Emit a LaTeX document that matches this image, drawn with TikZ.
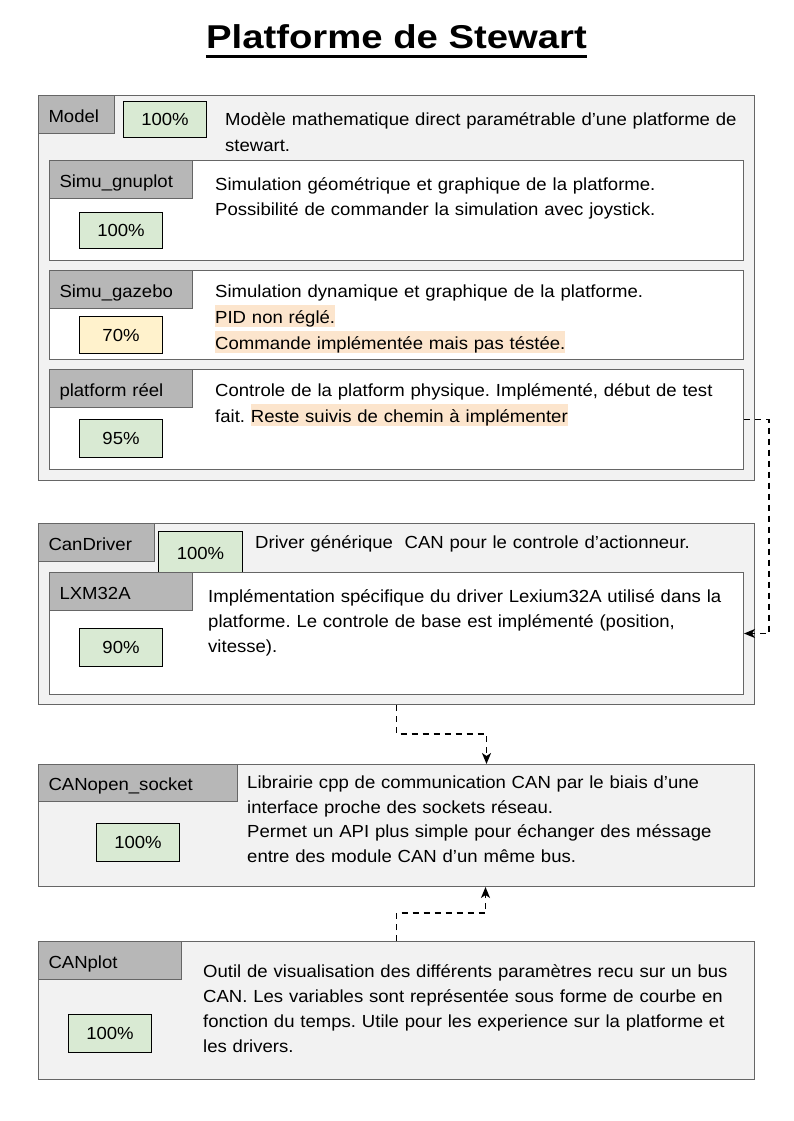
\documentclass[tikz,border=0pt]{standalone}
\usepackage{fontspec}
\setmainfont{Liberation Sans}[FakeStretch=1.06]
\newfontfamily\titlefont{Liberation Sans}[FakeStretch=1.16]
\usepackage{tikz}
\usetikzlibrary{arrows.meta,calc}
\usepackage{xcolor}
\frenchspacing
\definecolor{panelgray}{HTML}{F2F2F2}
\definecolor{edgegray}{HTML}{666666}
\definecolor{taggray}{HTML}{B7B7B7}
\definecolor{okgreen}{HTML}{D9EAD3}
\definecolor{wipyellow}{HTML}{FFF2CC}
\definecolor{hlpeach}{HTML}{FCE5CD}
\tikzstyle{modbox}=[draw=edgegray, fill=panelgray, line width=1pt, anchor=north west, inner sep=0pt]
\tikzstyle{subbox}=[modbox, fill=white]
\tikzstyle{tagbox}=[draw=edgegray, fill=taggray, line width=1pt, anchor=north west, inner xsep=10pt, inner ysep=0pt, align=left, text height=15pt, text depth=0pt, font=\fontsize{17.5}{21}\selectfont]
\tikzstyle{pctbox}=[draw=black, fill=okgreen, line width=1pt, anchor=north west, inner sep=0pt, minimum width=83pt, font=\fontsize{17.5}{21}\selectfont]
\tikzstyle{descr}=[anchor=base west, inner sep=0pt, text width=570pt, align=left, font=\fontsize{17.5}{25}\selectfont]
\tikzstyle{dep}=[dash pattern=on 6pt off 5pt, line width=1.6pt, -{Stealth[length=11pt,width=9pt,inset=3pt]}]
\newcommand{\hl}[1]{{\setlength{\fboxsep}{0pt}\colorbox{hlpeach}{\rule[-4pt]{0pt}{22pt}#1}}}

\begin{document}
\begin{tikzpicture}[x=1pt, y=-1pt]
 \useasboundingbox (0,0) rectangle (793,1121);
 \node[inner sep=0pt, anchor=base, font=\titlefont\bfseries\fontsize{33}{40}\selectfont] (title) at (396.5,49) {Platforme de Stewart};
 \draw[line width=2.5pt] ([yshift=-7.5pt]title.base west) -- ([yshift=-7.5pt]title.base east);
%
 \node[modbox, minimum width=716pt, minimum height=385pt] (model) at (38,95) {};
 \node[tagbox, text width=56pt, minimum height=38pt] (modeltag) at (38,95) {Model};
 \node[pctbox, minimum height=36pt] (modelpct) at (123,101) {100\%};
 \node[descr] (modeltxt) at (225,126) {Modèle mathematique direct paramétrable d’une platforme de\\stewart.};
%
 \node[subbox, minimum width=694pt, minimum height=100pt] (gnuplot) at (49,160) {};
 \node[tagbox, text width=123pt, minimum height=38pt] (gnuplottag) at (49,160) {Simu\_gnuplot};
 \node[pctbox, minimum height=36pt] (gnuplotpct) at (79,212) {100\%};
 \node[descr] (gnuplottxt) at (215,190) {Simulation géométrique et graphique de la platforme.\\Possibilité de commander la simulation avec joystick.};
%
 \node[subbox, minimum width=694pt, minimum height=89pt] (gazebo) at (49,270) {};
 \node[tagbox, text width=123pt, minimum height=38pt] (gazebotag) at (49,270) {Simu\_gazebo};
 \node[pctbox, fill=wipyellow, minimum height=37pt] (gazebopct) at (79,316) {70\%};
 \node[descr, font=\fontsize{17.5}{26}\selectfont] (gazebotxt) at (215,297) {Simulation dynamique et graphique de la platforme.\\\hl{PID non réglé.}\\\hl{Commande implémentée mais pas téstée.}};
%
 \node[subbox, minimum width=694pt, minimum height=100pt] (reel) at (49,369) {};
 \node[tagbox, text width=123pt, minimum height=38pt] (reeltag) at (49,369) {platform réel};
 \node[pctbox, minimum height=38pt] (reelpct) at (79,419) {95\%};
 \node[descr, font=\fontsize{17.5}{26}\selectfont] (reeltxt) at (215,396) {Controle de la platform physique. Implémenté, début de test\\fait. \hl{Reste suivis de chemin à implémenter}};
%
 \node[modbox, minimum width=716pt, minimum height=181pt] (candriver) at (38,523) {};
 \node[tagbox, text width=96pt, minimum height=38pt] (candrivertag) at (38,523) {CanDriver};
 \node[pctbox, minimum width=84pt, minimum height=43pt] (candriverpct) at (158,531) {100\%};
 \node[descr] (candrivertxt) at (255,548) {Driver générique\ \ CAN pour le controle d’actionneur.};
%
 \node[subbox, minimum width=694pt, minimum height=122pt] (lxm) at (49,572) {};
 \node[tagbox, text width=123pt, minimum height=38pt] (lxmtag) at (49,572) {LXM32A};
 \node[pctbox, minimum height=38pt] (lxmpct) at (79,628) {90\%};
 \node[descr] (lxmtxt) at (208,602) {Implémentation spécifique du driver Lexium32A utilisé dans la\\platforme. Le controle de base est implémenté (position,\\vitesse).};
%
 \node[modbox, minimum width=716pt, minimum height=122pt] (canopen) at (38,764) {};
 \node[tagbox, text width=179pt, minimum height=37pt] (canopentag) at (38,764) {CANopen\_socket};
 \node[pctbox, minimum height=38pt] (canopenpct) at (96,823) {100\%};
 \node[descr, font=\fontsize{17.5}{24.5}\selectfont] (canopentxt) at (247,788.5) {Librairie cpp de communication CAN par le biais d’une\\interface proche des sockets réseau.\\Permet un API plus simple pour échanger des méssage\\entre des module CAN d’un même bus.};
%
 \node[modbox, minimum width=716pt, minimum height=138pt] (canplot) at (38,941) {};
 \node[tagbox, text width=123pt, minimum height=38pt] (canplottag) at (38,941) {CANplot};
 \node[pctbox, minimum height=38pt] (canplotpct) at (68,1014) {100\%};
 \node[descr] (canplottxt) at (203,977) {Outil de visualisation des différents paramètres recu sur un bus\\CAN. Les variables sont représentée sous forme de courbe en\\fonction du temps. Utile pour les experience sur la platforme et\\les drivers.};
%
 \coordinate (canopenin) at ([xshift=90pt]canopen.north);
 \coordinate (canopenup) at ([xshift=89pt]canopen.south);
 \draw[dep] (reel.east) -- ++(25,0) |- (lxm.east);
 \draw[dep] (candriver.south) -- ++(0,29) -| (canopenin);
 \draw[dep] (canplot.north) -- ++(0,-28) -| (canopenup);
\end{tikzpicture}
\end{document}
